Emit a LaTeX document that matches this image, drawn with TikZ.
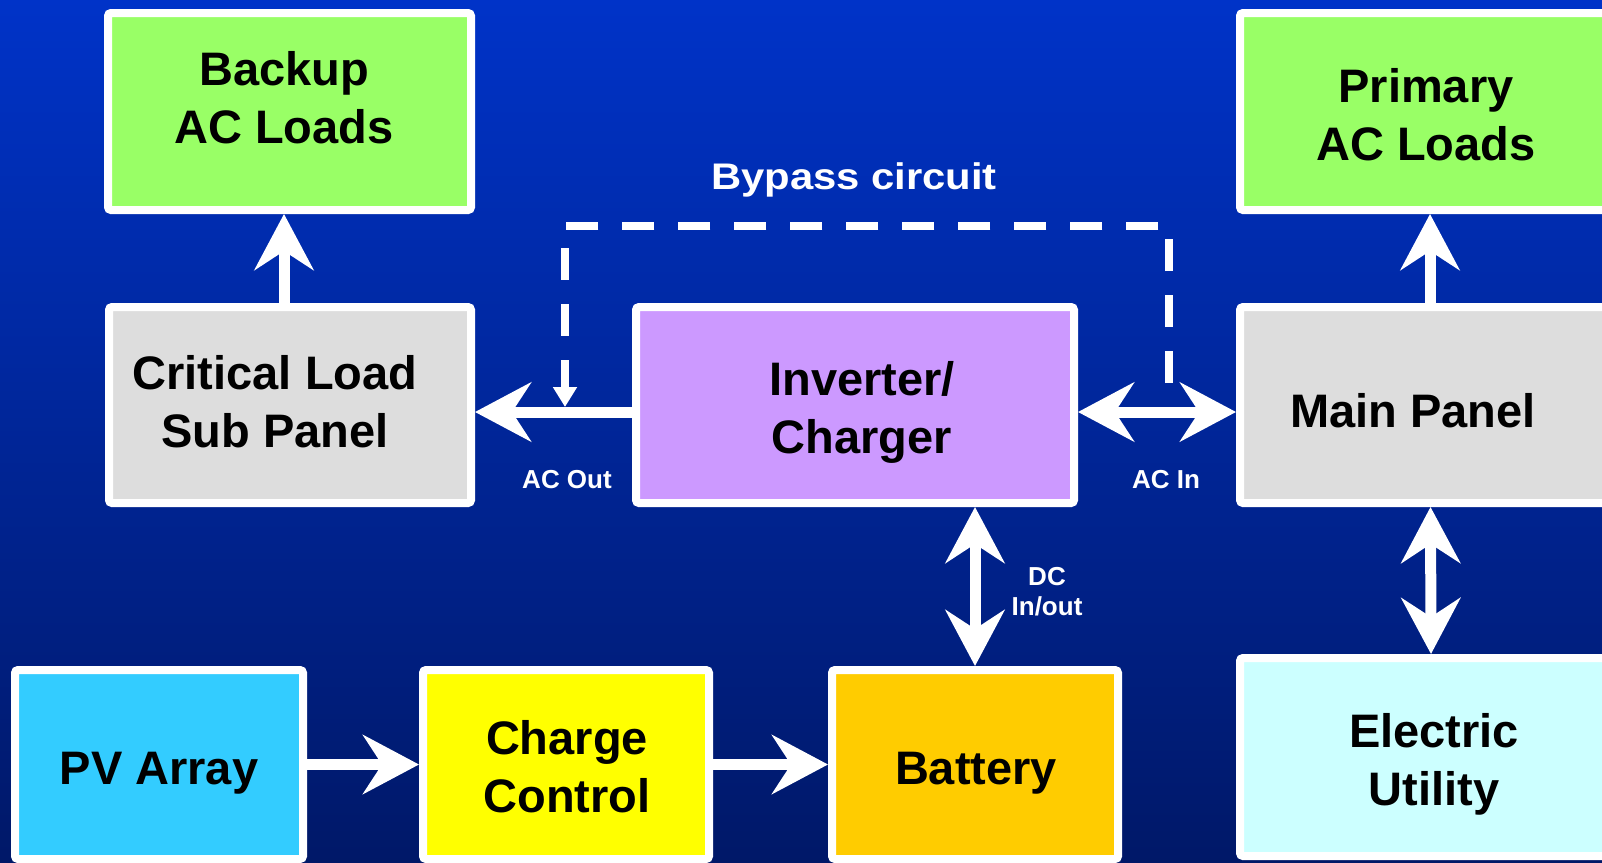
\documentclass[tikz,border=0pt]{standalone}
\usepackage{fontspec}
\setmainfont{Liberation Sans}
\usetikzlibrary{arrows.meta}
\definecolor{bgtop}{RGB}{0,51,200}
\definecolor{bgbot}{RGB}{0,24,104}
\definecolor{cgreen}{RGB}{153,255,102}
\definecolor{cgrey}{RGB}{221,221,221}
\definecolor{cpurple}{RGB}{204,153,255}
\definecolor{ccyan}{RGB}{51,204,255}
\definecolor{cyellow}{RGB}{255,255,0}
\definecolor{corange}{RGB}{255,204,0}
\definecolor{clcyan}{RGB}{204,255,255}
\begin{document}
\begin{tikzpicture}[x=1pt,y=-1pt,
  box/.style={draw=white, line width=8pt, rounded corners=3pt, inner sep=0pt},
  boxtxt/.style={font=\fontsize{47}{58}\selectfont\bfseries, text=black, align=center, anchor=base, inner sep=0pt},
  lbl/.style={font=\fontsize{26}{30}\selectfont\bfseries, text=white, align=center, anchor=base, inner sep=0pt},
  bigarrow/.style={draw=white, line width=11pt, -{Stealth[length=56pt,width=59pt,inset=19pt]}},
  bigdbl/.style={draw=white, line width=11pt, {Stealth[length=56pt,width=59pt,inset=19pt]}-{Stealth[length=56pt,width=59pt,inset=19pt]}},
  bypass/.style={draw=white, line width=8pt, dash pattern=on 32pt off 24pt, -{Triangle[length=20pt,width=23pt]}}
]
\useasboundingbox (0,0) rectangle (1602,862);
\clip (0,0) rectangle (1602,862);
\shade[top color=bgtop, bottom color=bgbot] (0,0) rectangle (1602,862);

% boxes
\node[box, fill=cgreen,  minimum width=363pt, minimum height=197pt] (backup)  at (289.5,111.5) {};
\node[box, fill=cgreen,  minimum width=376pt, minimum height=197pt] (primary) at (1428,111.5) {};
\node[box, fill=cgrey,   minimum width=362pt, minimum height=196pt] (crit)    at (290,405) {};
\node[box, fill=cpurple, minimum width=438pt, minimum height=196pt] (inv)     at (855,405) {};
\node[box, fill=cgrey,   minimum width=376pt, minimum height=196pt] (main)    at (1428,405) {};
\node[box, fill=clcyan,  minimum width=377pt, minimum height=198pt] (util)    at (1428.5,757) {};
\node[box, fill=ccyan,   minimum width=288pt, minimum height=189pt] (pv)      at (159,764.5) {};
\node[box, fill=cyellow, minimum width=286pt, minimum height=189pt] (charge)  at (566,764.5) {};
\node[box, fill=corange, minimum width=286pt, minimum height=189pt] (battery) at (975,764.5) {};

% box texts (anchor base = baseline of last line)
\node[boxtxt] (backupT)  at (284,143)  {Backup\\AC Loads};
\node[boxtxt] (primaryT) at (1426,160) {Primary\\AC Loads};
\node[boxtxt] (critT)    at (275,447)  {Critical Load\\Sub Panel};
\node[boxtxt] (invT)     at (862,453)  {Inverter/\\Charger};
\node[boxtxt] (mainT)    at (1413,427) {Main Panel};
\node[boxtxt] (utilT)    at (1434,805) {Electric\\Utility};
\node[boxtxt] (pvT)      at (159,784)  {PV Array};
\node[boxtxt] (chargeT)  at (567,812)  {Charge\\Control};
\node[boxtxt] (batteryT) at (976,784)  {Battery};

% labels
\node[lbl] (bypassT) at (854,189) {\fontsize{37}{40}\selectfont\scalebox{1.13}[1]{Bypass circuit}};
\node[lbl] (acoutT)  at (567,488) {AC Out};
\node[lbl] (acinT)   at (1166,488) {AC In};
\node[lbl] (dcT)     at (1047,615) {DC\\In/out};

% connectors
\draw[bigarrow] ([xshift=-6pt]crit.north) -- ([xshift=-6pt]crit.north |- backup.south);
\draw[bigarrow] ([xshift=2pt]main.north) -- ([xshift=2pt]main.north |- primary.south);
\draw[bigarrow] ([yshift=-7pt]inv.west) -- ([yshift=-7pt]inv.west -| crit.east);
\draw[bigdbl] ([yshift=-7pt]inv.east) -- ([yshift=-7pt]inv.east -| main.west);
\draw[bigdbl] (inv.south -| battery.north) -- (battery.north);
\draw[bigdbl] ([xshift=2.5pt]main.south) -- ([xshift=2.5pt]util.north);
\draw[bigarrow] (pv.east) -- (charge.west);
\draw[bigarrow] (charge.east) -- (battery.west);

% bypass circuit
\coordinate (bpS) at (1169,383);
\coordinate (bpE) at (565,407);
\coordinate (bpY) at (0,225.6);
\draw[bypass] (bpS) -- (bpS |- bpY) -- (bpE |- bpY) -- (bpE);
\end{tikzpicture}
\end{document}
